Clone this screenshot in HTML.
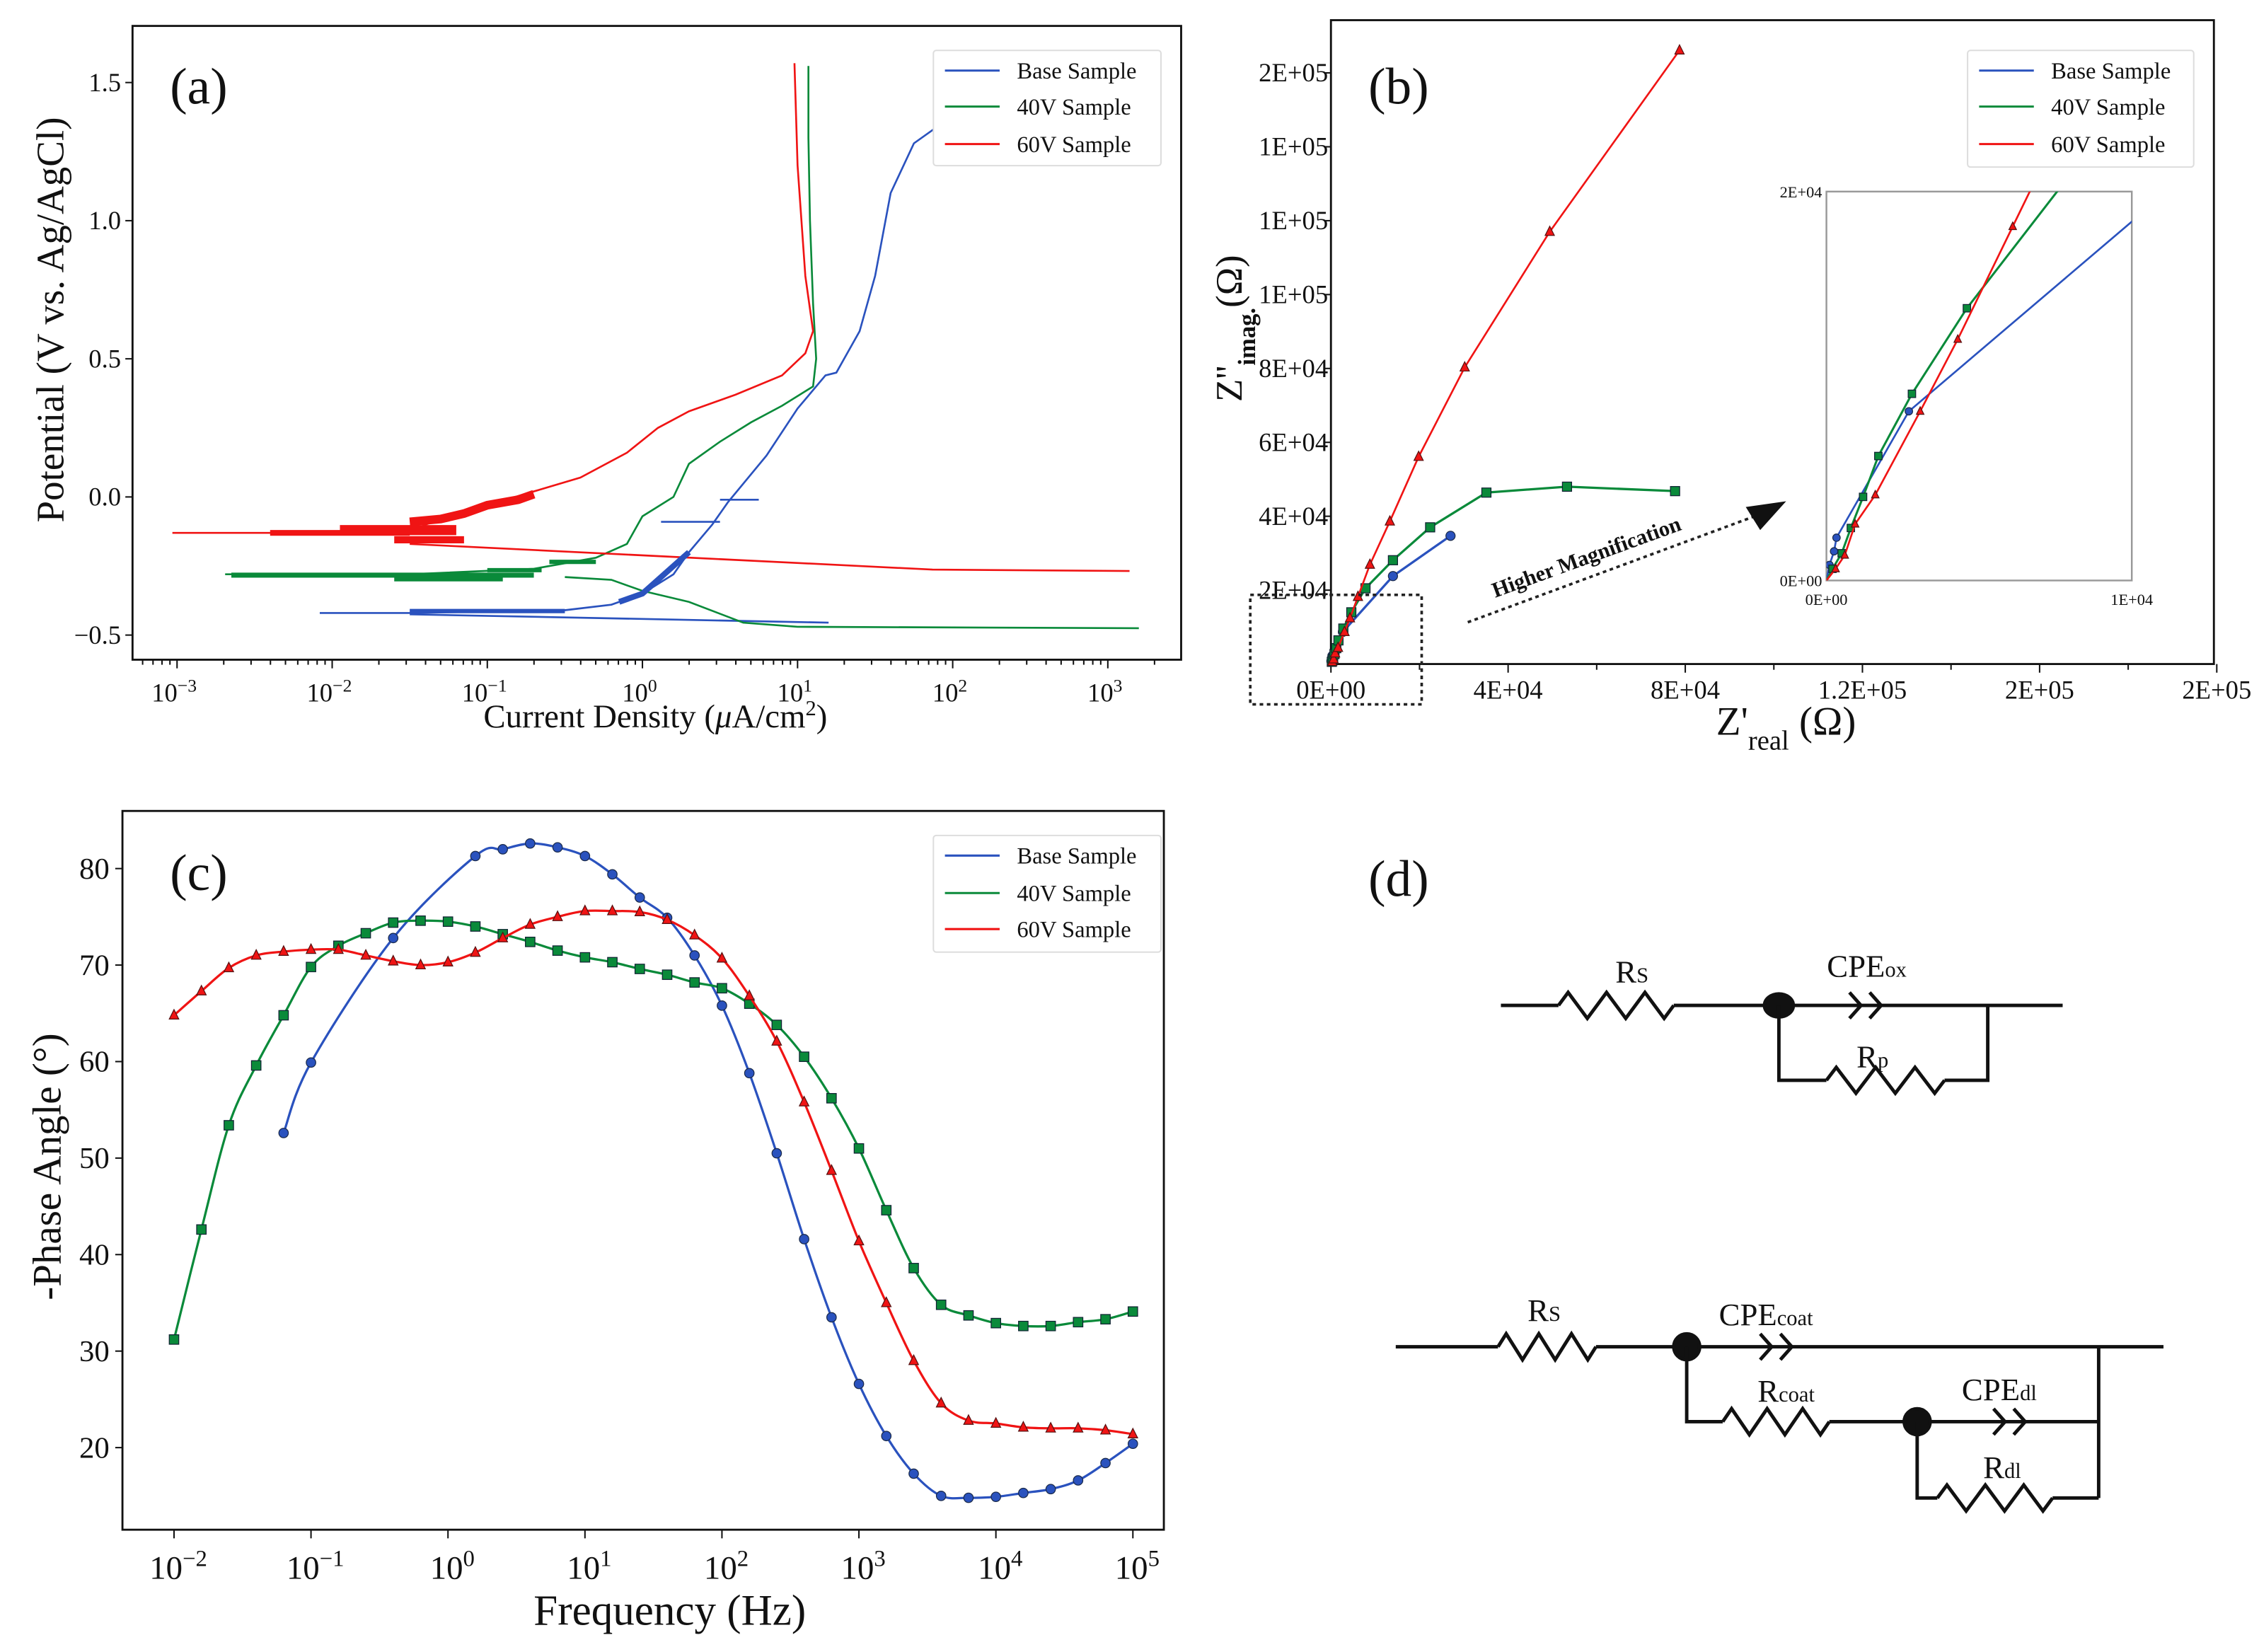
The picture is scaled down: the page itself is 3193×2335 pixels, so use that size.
<!DOCTYPE html>
<html><head><meta charset="utf-8"><style>
html,body{margin:0;padding:0;background:#fff}
svg{display:block}
text{font-family:"Liberation Serif",serif;fill:#111}
</style></head><body>
<svg id="fig" xmlns="http://www.w3.org/2000/svg" width="3193" height="2335" viewBox="0 0 1568.3 1146.9"></svg>
<script>
// ---------- Panel (a) data: log10(current density), potential ----------
const aBaseX=[-2.08,-1.5,-1.0,-0.5,-0.2,0.0,0.2,0.3,0.45,0.55,0.8,1.0,1.18,1.25,1.4,1.5,1.6,1.75,2.0,2.35];
const aBaseY=[-0.42,-0.42,-0.415,-0.41,-0.39,-0.35,-0.28,-0.2,-0.1,-0.02,0.15,0.32,0.44,0.45,0.6,0.8,1.1,1.28,1.38,1.45];
const aBaseCathX=[-1.5,1.2];
const aBaseCathY=[-0.425,-0.455];
const a40X=[-2.69,-1.5,-0.7,-0.3,-0.1,0.0,0.2,0.3,0.5,0.7,0.9,1.1,1.12,1.1,1.08,1.07,1.07];
const a40Y=[-0.28,-0.28,-0.26,-0.22,-0.17,-0.07,0.0,0.12,0.2,0.27,0.33,0.4,0.5,0.7,1.0,1.3,1.56];
const a40CathX=[-0.5,-0.2,0.0,0.3,0.65,1.0,3.2];
const a40CathY=[-0.29,-0.3,-0.34,-0.38,-0.455,-0.47,-0.475];
const a60X=[-3.03,-1.5,-1.4,-1.0,-0.7,-0.4,-0.1,0.1,0.3,0.6,0.9,1.05,1.1,1.05,1.0,0.98];
const a60Y=[-0.13,-0.13,-0.10,-0.03,0.02,0.07,0.16,0.25,0.31,0.37,0.44,0.52,0.6,0.8,1.2,1.57];
const a60CathX=[-1.5,1.87,3.14];
const a60CathY=[-0.17,-0.263,-0.268];
const aYTicks=[-0.5,0.0,0.5,1.0,1.5];
const aXTicks=[-3,-2,-1,0,1,2,3];

// ---------- Panel (b) data: Z'real, Z''imag (ohm) ----------
const bBaseRe=[0,100,250,330,2700,14000,27000];
const bBaseIm=[0,800,1500,2200,8700,23800,34700];
const b40Re=[0,200,500,800,1200,1700,2800,4600,7800,14000,22400,35100,53300,77700];
const b40Im=[0,600,1400,2700,4300,6400,9600,14000,20500,28100,37000,46400,48000,46800];
const b60Re=[0,300,600,940,1600,3070,4300,6100,8800,13300,19800,30200,49400,78700];
const b60Im=[0,600,1300,2900,4400,8700,12400,18200,26900,38600,56100,80300,117000,166100];
const bXTickVals=[0,40000,80000,120000,160000,200000];
const bXTickLabels=["0E+00","4E+04","8E+04","1.2E+05","2E+05","2E+05"];
const bYTickVals=[20000,40000,60000,80000,100000,120000,140000,160000];
const bYTickLabels=["2E+04","4E+04","6E+04","8E+04","1E+05","1E+05","1E+05","2E+05"];

// ---------- Panel (c) data: log10(freq), -phase ----------
const cLogF=[-2,-1.8,-1.6,-1.4,-1.2,-1,-0.8,-0.6,-0.4,-0.2,0,0.2,0.4,0.6,0.8,1,1.2,1.4,1.6,1.8,2,2.2,2.4,2.6,2.8,3,3.2,3.4,3.6,3.8,4,4.2,4.4,4.6,4.8,5];
const cBase=[null,null,null,null,52.6,59.9,null,null,72.8,null,null,81.3,82.0,82.6,82.2,81.3,79.4,77.0,74.9,71.0,65.8,58.8,50.5,41.6,33.5,26.6,21.2,17.3,15.0,14.8,14.9,15.3,15.7,16.6,18.4,20.4];
const c40=[31.2,42.6,53.4,59.6,64.8,69.8,72.0,73.3,74.4,74.6,74.5,74.0,73.2,72.4,71.5,70.8,70.3,69.6,69.0,68.2,67.6,66.0,63.8,60.5,56.2,51.0,44.6,38.6,34.8,33.7,32.9,32.6,32.6,33.0,33.3,34.1];
const c60=[64.8,67.3,69.7,71.0,71.4,71.6,71.6,71.0,70.4,70.0,70.3,71.3,72.8,74.2,75.0,75.6,75.6,75.5,74.7,73.1,70.7,66.8,62.1,55.8,48.7,41.4,35.0,29.0,24.6,22.8,22.5,22.1,22.0,22.0,21.8,21.4];
const cYTicks=[20,30,40,50,60,70,80];
const cXTicks=[-2,-1,0,1,2,3,4,5];

const BLUE="#2a52be",GREEN="#0a8a3a",RED="#f01414";
const NS="http://www.w3.org/2000/svg";
const svg=document.getElementById('fig');
function mk(tag,attrs,parent){const e=document.createElementNS(NS,tag);for(const k in attrs)e.setAttribute(k,attrs[k]);(parent||svg).appendChild(e);return e;}
function supTick(g,x,y,exp,size){const t=mk('text',{x:x,y:y,'text-anchor':'middle','font-size':size},g);t.textContent='10';const s=mk('tspan',{'baseline-shift':'super','font-size':size*0.7},t);s.textContent=(exp<0?'\u2212'+(-exp):''+exp);return t;}
function pathD(pts){return pts.map((p,i)=>(i?'L':'M')+p[0].toFixed(2)+' '+p[1].toFixed(2)).join(' ');}
function smoothD(pts){if(pts.length<3)return pathD(pts);let d='M'+pts[0][0]+' '+pts[0][1];for(let i=0;i<pts.length-1;i++){const p0=pts[i-1]||pts[i],p1=pts[i],p2=pts[i+1],p3=pts[i+2]||p2;const c1=[p1[0]+(p2[0]-p0[0])/6,p1[1]+(p2[1]-p0[1])/6],c2=[p2[0]-(p3[0]-p1[0])/6,p2[1]-(p3[1]-p1[1])/6];d+=' C'+c1[0].toFixed(2)+' '+c1[1].toFixed(2)+' '+c2[0].toFixed(2)+' '+c2[1].toFixed(2)+' '+p2[0].toFixed(2)+' '+p2[1].toFixed(2);}return d;}
function marker(g,type,x,y,color,r){let m;if(type==='circle')m=mk('circle',{cx:x,cy:y,r:r,fill:color,stroke:'#1a2a4a','stroke-width':0.6},g);else if(type==='square')m=mk('rect',{x:x-r,y:y-r,width:2*r,height:2*r,fill:color,stroke:'#123','stroke-width':0.6},g);else m=mk('polygon',{points:(x)+','+(y-r*1.2)+' '+(x-r)+','+(y+r*0.8)+' '+(x+r)+','+(y+r*0.8),fill:color,stroke:'#511','stroke-width':0.6},g);return m;}
function legend(g,x,y,w,h,rowY){const box=mk('rect',{x:x,y:y,width:w,height:h,fill:'#fff',stroke:'#ddd','stroke-width':1,rx:2},g);
 
 const names=['Base Sample','40V Sample','60V Sample'],cols=[BLUE,GREEN,RED],keys=['legend-entry-base','legend-entry-40v','legend-entry-60v'];
 for(let i=0;i<3;i++){const eg=mk('g',{},g);
  mk('line',{x1:x+8,x2:x+46,y1:rowY[i],y2:rowY[i],stroke:cols[i],'stroke-width':1.5},eg);
  const t=mk('text',{x:x+58,y:rowY[i]+5.5,'font-size':16},eg);t.textContent=names[i];}}

// ================= Panel (a) =================
(function(){
 const L=92,R=820,T=18,B=458;
 const xs=v=>446+(v-0)*107.7, ys=v=>345-(v)*191.8;
 const g=mk('g',{});
 const ax=mk('rect',{x:L,y:T,width:R-L,height:B-T,fill:'none',stroke:'#111','stroke-width':1.4},g);
 
 const tg=mk('g',{},g);
 for(let d=-4;d<=3;d++){for(let k=1;k<=9;k++){const v=d+Math.log10(k);const px=xs(v);if(px<L||px>R)continue;mk('line',{x1:px,x2:px,y1:B,y2:B+(k===1?6:3.5),stroke:'#111','stroke-width':1},tg);}}
 aXTicks.forEach(v=>{supTick(tg,xs(v)-2,B+29,v,18);});
 const yg=mk('g',{},g);
 aYTicks.forEach(v=>{mk('line',{x1:L-5,x2:L,y1:ys(v),y2:ys(v),stroke:'#111','stroke-width':1},yg);const t=mk('text',{x:L-8,y:ys(v)+6,'text-anchor':'end','font-size':18},yg);t.textContent=(v<0?'\u2212':'')+Math.abs(v).toFixed(1);});
 const yt=mk('text',{x:0,y:0,'text-anchor':'middle','font-size':27,transform:'translate(44,222) rotate(-90)'},g);yt.textContent='Potential (V vs. Ag/AgCl)';
 
 const xt=mk('text',{x:455,y:505,'text-anchor':'middle','font-size':23},g);xt.innerHTML='Current Density (<tspan font-style="italic">\u03bc</tspan>A/cm<tspan baseline-shift="super" font-size="15">2</tspan>)';
 
 const pl=mk('text',{x:118,y:72,'font-size':36},g);pl.textContent='(a)';
 function line(X,Y,c,name,w){const p=mk('path',{d:pathD(X.map((x,i)=>[xs(x),ys(Y[i])])),fill:'none',stroke:c,'stroke-width':w||1.3},g);}
 line(aBaseX,aBaseY,BLUE,'base-anodic-line');line(aBaseCathX,aBaseCathY,BLUE,'base-cathodic-line');
 line([0.12,0.5],[-0.09,-0.09],BLUE,'base-spur-1');line([0.5,0.75],[-0.01,-0.01],BLUE,'base-spur-2');
 line(a40X,a40Y,GREEN,'40v-anodic-line');line(a40CathX,a40CathY,GREEN,'40v-cathodic-line');
 line(a60X,a60Y,RED,'60v-anodic-line');line(a60CathX,a60CathY,RED,'60v-cathodic-line');
 // noisy fuzz near corrosion potential (thick strokes)
 line([-2.4,-1.5],[-0.13,-0.13],RED,'60v-noise-1',4);
 line([-1.95,-1.2],[-0.12,-0.12],RED,'60v-noise-2',7);
 line([-1.6,-1.15],[-0.155,-0.155],RED,'60v-noise-3',5);
 line([-1.5,-1.3,-1.15,-1.0,-0.8,-0.7],[-0.09,-0.08,-0.06,-0.03,-0.01,0.01],RED,'60v-noise-4',6);
 line([-2.65,-0.7],[-0.283,-0.283],GREEN,'40v-noise-1',3.5);
 line([-1.6,-0.9],[-0.29,-0.29],GREEN,'40v-noise-2',6);
 line([-1.0,-0.65],[-0.265,-0.265],GREEN,'40v-noise-3',3);
 line([-0.6,-0.3],[-0.235,-0.235],GREEN,'40v-noise-4',3);
 line([-0.15,0.0,0.1,0.2,0.3],[-0.38,-0.35,-0.3,-0.25,-0.2],BLUE,'base-noise-1',4);
 line([-1.5,-0.5],[-0.413,-0.413],BLUE,'base-noise-2',3);
 legend(g,648,35,158,80,[49,74,100]);
})();

// ================= Panel (b) =================
(function(){
 const L=924,R=1537,T=14,B=461;
 const xs=v=>L+v/40000*123, ys=v=>B-v/20000*51.3;
 const g=mk('g',{});
 const ax=mk('rect',{x:L,y:T,width:R-L,height:B-T,fill:'none',stroke:'#111','stroke-width':1.4},g);
 
 const tg=mk('g',{},g);
 for(let v=0;v<=200000;v+=20000){mk('line',{x1:xs(v),x2:xs(v),y1:B,y2:B+(v%40000===0?6:4),stroke:'#111','stroke-width':1},tg);}
 bXTickVals.forEach((v,i)=>{const t=mk('text',{x:xs(v),y:B+24,'text-anchor':'middle','font-size':18},tg);t.textContent=bXTickLabels[i];});
 const yg=mk('g',{},g);
 bYTickVals.forEach((v,i)=>{mk('line',{x1:L-5,x2:L,y1:ys(v),y2:ys(v),stroke:'#111','stroke-width':1},yg);const t=mk('text',{x:L-2,y:ys(v)+6,'text-anchor':'end','font-size':18},yg);t.textContent=bYTickLabels[i];});
 const yt=mk('text',{x:0,y:0,'text-anchor':'middle','font-size':26,transform:'translate(862,228) rotate(-90)'},g);yt.innerHTML='Z\'\'<tspan baseline-shift="sub" font-size="17" font-weight="bold">imag.</tspan>(\u03a9)';
 
 const xt=mk('text',{x:1240,y:510,'text-anchor':'middle','font-size':28},g);xt.innerHTML='Z\'<tspan baseline-shift="sub" font-size="19">real</tspan>  (\u03a9)';
 
 const pl=mk('text',{x:950,y:72,'font-size':36},g);pl.textContent='(b)';
 function series(Re,Im,c,type,name,xf,yf,parent,r,w){const gg=mk('g',{},parent);
  mk('path',{d:pathD(Re.map((x,i)=>[xf(x),yf(Im[i])])),fill:'none',stroke:c,'stroke-width':w},gg);
  Re.forEach((x,i)=>{if(i===0)return;const m=marker(gg,type,xf(x),yf(Im[i]),c,r);});}
 series(bBaseRe,bBaseIm,BLUE,'circle','base-nyquist-series',xs,ys,g,3.2,1.6);
 series(b40Re,b40Im,GREEN,'square','40v-nyquist-series',xs,ys,g,3.2,1.6);
 series(b60Re,b60Im,RED,'triangle','60v-nyquist-series',xs,ys,g,3.2,1.3);
 const dz=mk('rect',{x:868,y:413,width:119,height:76,fill:'none',stroke:'#222','stroke-width':1.8,'stroke-dasharray':'2.5 2.5'},g);
 
 const ar=mk('line',{x1:1019,y1:432,x2:1222,y2:357,stroke:'#222','stroke-width':1.8,'stroke-dasharray':'2.5 2.5'},g);
 const ah=mk('polygon',{points:'1240,348 1212,352 1222,368',fill:'#111'},g);
 const hm=mk('text',{x:0,y:0,'font-size':15,'font-weight':'bold',transform:'translate(1038,415) rotate(-20)'},g);hm.textContent='Higher Magnification';
 const iL=1268,iR=1480,iT=133,iB=403;
 const ixs=v=>iL+v/10000*(iR-iL), iys=v=>iB-v/20000*(iB-iT);
 const ig=mk('g',{},g);
 const defs=mk('defs',{},ig);const cp=mk('clipPath',{id:'insetClip'},defs);mk('rect',{x:iL,y:iT,width:iR-iL,height:iB-iT},cp);
 const iframe=mk('rect',{x:iL,y:iT,width:iR-iL,height:iB-iT,fill:'#fff',stroke:'#999','stroke-width':1.2},ig);
 const ic=mk('g',{'clip-path':'url(#insetClip)'},ig);
 series(bBaseRe,bBaseIm,BLUE,'circle','inset-base-series',ixs,iys,ic,2.6,1.3);
 series(b40Re,b40Im,GREEN,'square','inset-40v-series',ixs,iys,ic,2.6,1.5);
 series(b60Re,b60Im,RED,'triangle','inset-60v-series',ixs,iys,ic,2.6,1.3);
 [['0E+00',iL-3,iB+4,'end'],['2E+04',iL-3,iT+4,'end'],['0E+00',iL,iB+17,'middle'],['1E+04',iR,iB+17,'middle']].forEach(a=>{const t=mk('text',{x:a[1],y:a[2],'text-anchor':a[3],'font-size':11},ig);t.textContent=a[0];});
 legend(g,1366,35,157,81,[49,74,100]);
})();

// ================= Panel (c) =================
(function(){
 const L=85,R=808,T=563,B=1062;
 const xs=v=>311+v*95.1, ys=v=>1005-(v-20)*6.7;
 const g=mk('g',{});
 const ax=mk('rect',{x:L,y:T,width:R-L,height:B-T,fill:'none',stroke:'#111','stroke-width':1.4},g);
 
 const tg=mk('g',{},g);
 cXTicks.forEach(v=>{mk('line',{x1:xs(v),x2:xs(v),y1:B,y2:B+6,stroke:'#111','stroke-width':1},tg);supTick(tg,xs(v)+3,B+34,v,23);});
 const yg=mk('g',{},g);
 cYTicks.forEach(v=>{mk('line',{x1:L-5,x2:L,y1:ys(v),y2:ys(v),stroke:'#111','stroke-width':1},yg);const t=mk('text',{x:L-9,y:ys(v)+7,'text-anchor':'end','font-size':21},yg);t.textContent=v;});
 const yt=mk('text',{x:0,y:0,'text-anchor':'middle','font-size':28,transform:'translate(42,810) rotate(-90)'},g);yt.textContent='-Phase Angle (\u00b0)';
 
 const xt=mk('text',{x:465,y:1128,'text-anchor':'middle','font-size':30},g);xt.textContent='Frequency (Hz)';
 
 const pl=mk('text',{x:118,y:618,'font-size':36},g);pl.textContent='(c)';
 function series(vals,c,type,name){const gg=mk('g',{},g);
  const pts=[];cLogF.forEach((f,i)=>{if(vals[i]!=null)pts.push([xs(f),ys(vals[i])]);});
  mk('path',{d:smoothD(pts),fill:'none',stroke:c,'stroke-width':1.6},gg);
  pts.forEach(p=>{const m=marker(gg,type,p[0],p[1],c,3.3);});}
 series(cBase,BLUE,'circle','base-phase-series');
 series(c40,GREEN,'square','40v-phase-series');
 series(c60,RED,'triangle','60v-phase-series');
 legend(g,648,580,158,81,[594,620,645]);
})();

// ================= Panel (d) circuits =================
(function(){
 const g=mk('g',{fill:'none',stroke:'#111','stroke-width':2.4});
 const pl=mk('text',{x:950,y:622,'font-size':36,stroke:'none'},g);pl.textContent='(d)';
 function res(x1,x2,y,name){const n=6,step=(x2-x1)/n;let d='M'+x1+' '+y;for(let i=0;i<n;i++){d+=' L'+(x1+step*(i+0.5))+' '+(y+(i%2?9:-9));}d+=' L'+x2+' '+y;const p=mk('path',{d:d},g);}
 function cpe(x,y,name){const p=mk('path',{d:'M'+(x-8)+' '+(y-9)+' L'+x+' '+y+' L'+(x-8)+' '+(y+9)+' M'+(x+6)+' '+(y-9)+' L'+(x+14)+' '+y+' L'+(x+6)+' '+(y+9)},g);}
 function ln(d,name){const p=mk('path',{d:d},g);}
 function dot(x,y,rx,ry,name){const e=mk('ellipse',{cx:x,cy:y,rx:rx,ry:ry,fill:'#111'},g);}
 function lab(x,y,main,sub,name){const t=mk('text',{x:x,y:y,'text-anchor':'middle','font-size':22,stroke:'none'},g);t.innerHTML=main+'<tspan font-size="15">'+sub+'</tspan>';}
 ln('M1042 698 L1082 698 M1162 698 L1432 698','circuit1-wire');res(1082,1162,698,'circuit1-rs');
 dot(1235,698,10,8,'circuit1-node');cpe(1292,698,'circuit1-cpe-ox');
 ln('M1235 698 L1235 750 L1268 750 M1350 750 L1380 750 L1380 698','circuit1-branch');res(1268,1350,750,'circuit1-rp');
 lab(1133,682,'R','S','label-rs-1');lab(1296,678,'CPE','ox','label-cpe-ox');lab(1300,741,'R','p','label-rp');
 ln('M969 935 L1040 935 M1108 935 L1502 935','circuit2-wire');res(1040,1108,935,'circuit2-rs');
 dot(1171,935,9,9,'circuit2-node-1');cpe(1230,935,'circuit2-cpe-coat');
 ln('M1457 935 L1457 1040','circuit2-right-wire');
 ln('M1171 935 L1171 987 L1196 987 M1270 987 L1457 987','circuit2-branch-1');res(1196,1270,987,'circuit2-rcoat');
 dot(1331,987,9,9,'circuit2-node-2');cpe(1392,987,'circuit2-cpe-dl');
 ln('M1331 987 L1331 1040 L1345 1040 M1425 1040 L1457 1040','circuit2-branch-2');res(1345,1425,1040,'circuit2-rdl');
 lab(1072,917,'R','S','label-rs-2');lab(1226,920,'CPE','coat','label-cpe-coat');lab(1240,973,'R','coat','label-rcoat');
 lab(1388,972,'CPE','dl','label-cpe-dl');lab(1390,1026,'R','dl','label-rdl');
})();
</script>
</body></html>
